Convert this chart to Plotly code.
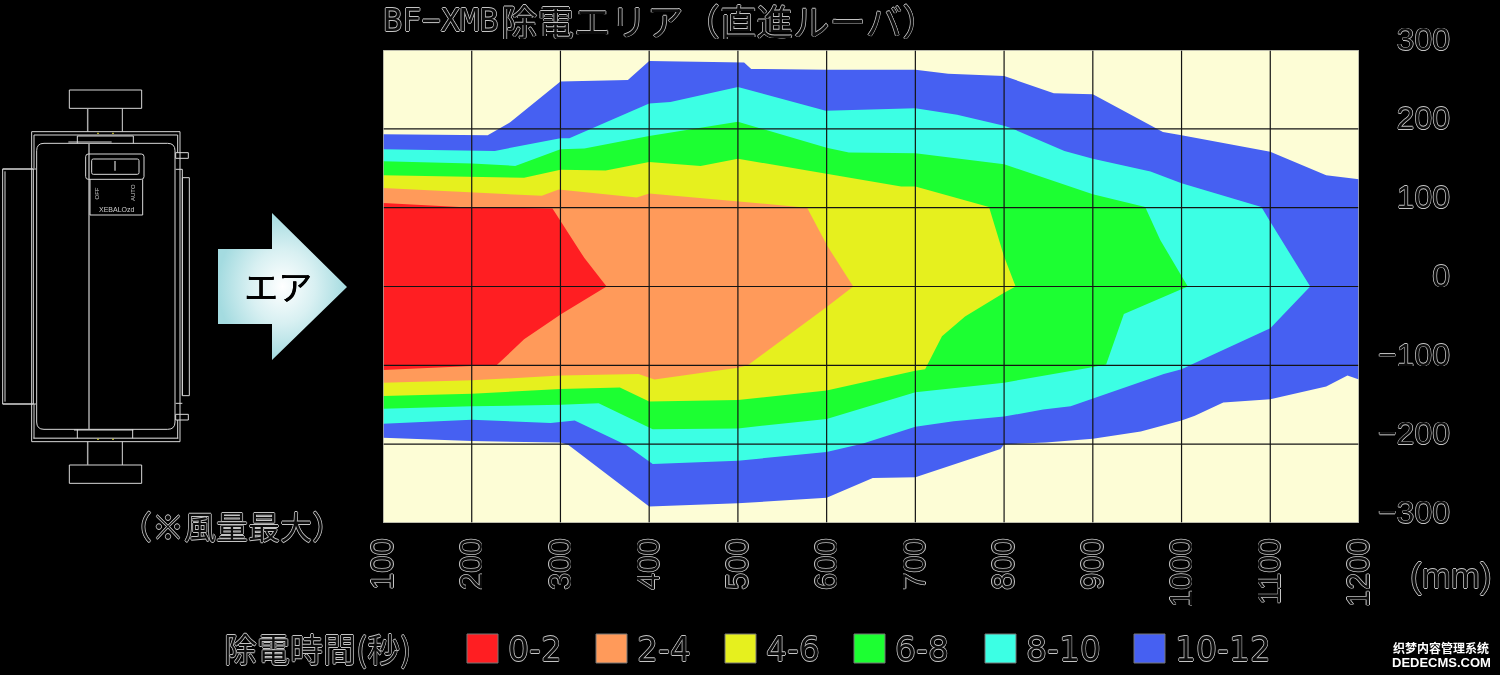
import plotly.graph_objects as go

band_labels = ["10-12", "8-10", "6-8", "4-6", "2-4", "0-2"]
band_colors = ["#4660F2", "#3CFFE4", "#1CFF32", "#E6F01E", "#FF9A5A", "#FF1E22"]

x_ticks = [100, 200, 300, 400, 500, 600, 700, 800, 900, 1000, 1100, 1200]
y_ticks = [-300, -200, -100, 0, 100, 200, 300]
y_tick_text = ["\u2212300", "\u2212200", "\u2212100", "0", "100", "200", "300"]

band_10_12_x = [100, 200, 218, 243, 300, 376, 400, 507, 515, 600, 700, 737, 800, 856, 900, 979, 1000, 1100, 1163, 1200,
                1200, 1187, 1163, 1100, 1047, 1015, 1000, 954, 900, 847, 800, 796, 700, 652, 600, 500, 400, 309, 300, 200, 100]
band_10_12_y = [193, 192, 192, 208, 260, 262, 286, 284, 276, 275, 275, 270, 267, 245, 244, 196, 192, 171, 141, 136,
                -118, -113, -127, -143, -147, -164, -170, -184, -193, -198, -200, -206, -242, -243, -268, -275, -279, -201, -198, -196, -192]
band_8_10_x = [100, 200, 226, 300, 310, 400, 424, 500, 599, 700, 747, 800, 812, 868, 900, 965, 1000, 1090, 1100, 1145,
               1100, 1015, 1000, 980, 900, 875, 844, 800, 743, 700, 641, 600, 500, 404, 374, 316, 289, 200, 100]
band_8_10_y = [174, 173, 172, 188, 188, 232, 234, 253, 223, 226, 218, 204, 199, 172, 162, 146, 131, 101, 82, 0,
               -53, -97, -105, -111, -143, -152, -156, -165, -171, -178, -199, -210, -221, -225, -201, -170, -173, -169, -174]
band_6_8_x = [100, 200, 249, 300, 327, 400, 500, 600, 625, 700, 800, 900, 959, 976, 1007,
              935, 915, 896, 800, 700, 600, 500, 404, 343, 300, 200, 100]
band_6_8_y = [159, 156, 153, 174, 175, 191, 209, 176, 170, 169, 155, 117, 101, 59, 0,
              -35, -99, -103, -122, -134, -168, -180, -181, -148, -150, -152, -155]
band_4_6_x = [100, 200, 259, 300, 351, 400, 458, 500, 600, 684, 700, 783, 800, 813,
              800, 756, 730, 711, 700, 600, 500, 400, 367, 300, 200, 100]
band_4_6_y = [141, 139, 138, 148, 147, 158, 153, 162, 143, 127, 127, 101, 38, 0,
              -8, -38, -63, -105, -107, -132, -144, -146, -128, -130, -136, -139]
band_2_4_x = [100, 200, 279, 298, 386, 400, 500, 578, 601, 630,
              600, 511, 500, 414, 406, 388, 300, 200, 100]
band_2_4_y = [125, 119, 115, 123, 113, 118, 108, 100, 51, 0,
              -26, -100, -103, -117, -118, -111, -113, -119, -122]
band_0_2_x = [100, 186, 291, 327, 352, 301, 259, 228, 200, 100]
band_0_2_y = [106, 101, 99, 36, 0, -35, -67, -100, -101, -106]

band_xs = [band_10_12_x, band_8_10_x, band_6_8_x, band_4_6_x, band_2_4_x, band_0_2_x]
band_ys = [band_10_12_y, band_8_10_y, band_6_8_y, band_4_6_y, band_2_4_y, band_0_2_y]

legend_order = ["0-2", "2-4", "4-6", "6-8", "8-10", "10-12"]
legend_left = [467, 596, 725, 854, 985, 1134]

OUT = "#c4c4c4"
SHADOW = ", ".join(f"{a}px {b}px 0 {OUT}" for a, b in [(0.7, 0), (-0.7, 0), (0, 0.7), (0, -0.7)])
def outline(size, family="Liberation Sans"):
    return dict(size=size, family=family, color="#0c0c0c", shadow=SHADOW)
JP = "Noto Sans CJK JP"

fig = go.Figure()

# area outside every band
fig.add_trace(go.Scatter(x=[100, 1200, 1200, 100], y=[-300, -300, 300, 300], mode="lines", fill="toself",
                         fillcolor="#FDFDD6", line=dict(width=0), showlegend=False, hoverinfo="skip"))

for name, color, xs, ys in zip(band_labels, band_colors, band_xs, band_ys):
    fig.add_trace(go.Scatter(x=xs, y=ys, name=name, mode="lines", fill="toself", fillcolor=color,
                             line=dict(width=0, color=color), showlegend=False, hoverinfo="name"))

# air arrow on the full-page layer
fig.add_trace(go.Scatter(
    x=[218, 272, 272, 347, 272, 272, 218, 218], y=[249, 249, 213, 287, 360, 324, 324, 249],
    xaxis="x2", yaxis="y2", mode="lines", line=dict(width=0), fill="toself", showlegend=False, hoverinfo="skip",
    fillgradient=dict(type="radial", colorscale=[[0, "#ffffff"], [0.5, "#d8f0f2"], [1, "#a4dbe0"]])))

shapes = []
def z(x, y):
    return x / 3, 80 + y / 3
def rect(x0, y0, x1, y1, color="#d8d8d8", width=1):
    a, b = z(x0, y0); c, d = z(x1, y1)
    shapes.append(dict(type="rect", xref="x2", yref="y2", x0=a, y0=b, x1=c, y1=d, line=dict(color=color, width=width)))
def line(x0, y0, x1, y1, color="#d8d8d8", width=1):
    a, b = z(x0, y0); c, d = z(x1, y1)
    shapes.append(dict(type="line", xref="x2", yref="y2", x0=a, y0=b, x1=c, y1=d, line=dict(color=color, width=width)))
def rrect(x0, y0, x1, y1, r, color="#d8d8d8", width=1):
    a, b = z(x0, y0); c, d = z(x1, y1); r = r / 3
    p = (f"M{a+r},{b} L{c-r},{b} Q{c},{b} {c},{b+r} L{c},{d-r} Q{c},{d} {c-r},{d} "
         f"L{a+r},{d} Q{a},{d} {a},{d-r} L{a},{b+r} Q{a},{b} {a+r},{b} Z")
    shapes.append(dict(type="path", xref="x2", yref="y2", path=p, line=dict(color=color, width=width)))

# illustration of the unit
rect(208, 30, 425, 85); rect(208, 1155, 425, 1210)
line(263, 85, 263, 155, "#aaaaaa", 1.5); line(367, 85, 367, 155)
line(263, 1085, 263, 1155, "#aaaaaa", 1.5); line(367, 1085, 367, 1155)
rect(95, 155, 540, 1085); 
line(102, 165, 533, 165); line(102, 165, 102, 265); line(533, 165, 533, 218)
line(100, 1075, 535, 1075, "#999999", 1.5); line(102, 972, 102, 1075); line(533, 1020, 533, 1075)
rrect(110, 190, 525, 1048, 22)
rect(8, 267, 100, 972); line(15, 274, 15, 965)
line(8, 267, 108, 267); line(8, 972, 108, 972)
rect(547, 293, 568, 947); line(527, 268, 547, 268); line(527, 970, 547, 970); line(547, 268, 547, 947)
line(267, 190, 267, 1048, "#aaaaaa", 1.5)
rrect(257, 222, 432, 298, 8); rrect(275, 237, 417, 283, 5); line(345, 243, 345, 272, "#aaaaaa", 1.5)
line(270, 298, 270, 405); line(428, 298, 428, 405); line(270, 405, 428, 405)
line(232, 168, 232, 190); line(400, 168, 400, 190); line(205, 186, 335, 186); line(232, 168, 400, 168)
line(232, 1048, 232, 1075); line(398, 1048, 398, 1075); line(222, 1050, 400, 1050)
rect(527, 218, 565, 235); rect(527, 1003, 565, 1020)
for px_ in [294, 339]:
    for py_ in [160, 1078]:
        a, b = z(px_, py_)
        shapes.append(dict(type="rect", xref="x2", yref="y2", x0=a - 0.7, x1=a + 0.7, y0=b - 0.7, y1=b + 0.7,
                           fillcolor="#e8e030", line=dict(width=0)))

# grid and frame above the filled bands
for t in x_ticks[1:-1]:
    shapes.append(dict(type="line", xref="x", yref="y", x0=t, x1=t, y0=-300, y1=300, line=dict(color="#141414", width=1.2)))
for t in y_ticks[1:-1]:
    shapes.append(dict(type="line", xref="x", yref="y", x0=100, x1=1200, y0=t, y1=t, line=dict(color="#141414", width=1.2)))
shapes.append(dict(type="rect", xref="x", yref="y", x0=100, x1=1200, y0=-300, y1=300, line=dict(color="#a8a8a0", width=1.5)))

annotations = []
def text(x, y, s, font, anchor="center", angle=0, **kw):
    annotations.append(dict(xref="x2", yref="y2", x=x, y=y, text=s, showarrow=False, font=font,
                            xanchor=anchor, yanchor="middle", textangle=angle, **kw))

text(381, 20, "BF\u2212XMB", outline(32, "DejaVu Sans Mono"), "left")
text(499, 20, "除電エリア（直進ルーバ）", outline(36.5, JP), "left", height=40)
text(232, 525, "（※風量最大）", outline(32, JP))
text(278, 285, "エア", dict(size=34, family=JP, color="#000000", shadow="0.5px 0 0 #000000, 0 0.4px 0 #000000"))
text(1451, 575, "(mm)", outline(35), "center")
text(317, 648, "除電時間(秒)", outline(33, JP))
text(1441, 647, "织梦内容管理系统", dict(size=12, family="Noto Sans CJK SC", color="#ffffff", weight=700))
text(1441, 662, "DEDECMS.COM", dict(size=13, family="Liberation Sans", color="#ffffff", weight=700))
text(96.5, 194, "OFF", dict(size=6, family="Liberation Sans", color="#cccccc"), angle=-90)
text(133, 193, "AUTO", dict(size=6, family="Liberation Sans", color="#cccccc"), angle=-90)
text(117, 209, "XEBALOzd", dict(size=7, family="Liberation Sans", color="#cccccc"))

colors_by_label = dict(zip(band_labels, band_colors))
for label, left in zip(legend_order, legend_left):
    shapes.append(dict(type="rect", xref="x2", yref="y2", x0=left, x1=left + 31, y0=634, y1=663,
                       fillcolor=colors_by_label[label], line=dict(color="#777777", width=1)))
    text(left + 39, 649, label, outline(33, "DejaVu Sans"), "left")

fig.update_layout(
    width=1500, height=675, margin=dict(l=0, r=0, t=0, b=0, autoexpand=False), autosize=False,
    paper_bgcolor="#000000", plot_bgcolor="rgba(0,0,0,0)", showlegend=False,
    shapes=shapes, annotations=annotations,
    xaxis=dict(domain=[383 / 1500, 1359 / 1500], range=[100, 1200], tickmode="array", tickvals=x_ticks,
               ticktext=[str(t) for t in x_ticks], tickangle=-90, tickfont=outline(31), ticklen=0,
               ticklabelstandoff=8, showgrid=False, zeroline=False, showline=False),
    yaxis=dict(domain=[(675 - 523) / 675, (675 - 50) / 675], range=[-300, 300], tickmode="array", tickvals=y_ticks,
               ticktext=y_tick_text, tickfont=outline(32), ticklen=0, anchor="free", position=1450 / 1500, side="left",
               ticklabelshift=-11, showgrid=False, zeroline=False, showline=False),
    xaxis2=dict(domain=[0, 1], range=[0, 1500], visible=False, anchor="y2"),
    yaxis2=dict(domain=[0, 1], range=[675, 0], visible=False, anchor="x2"),
)

fig.write_html("out.html", config=dict(displayModeBar=False),
               post_script="document.body.style.margin='0';document.body.style.background='#000';document.body.style.overflow='hidden';"
                           "var st=document.createElement('style');st.textContent='.main-svg text{filter:grayscale(1);}';document.head.appendChild(st);")
